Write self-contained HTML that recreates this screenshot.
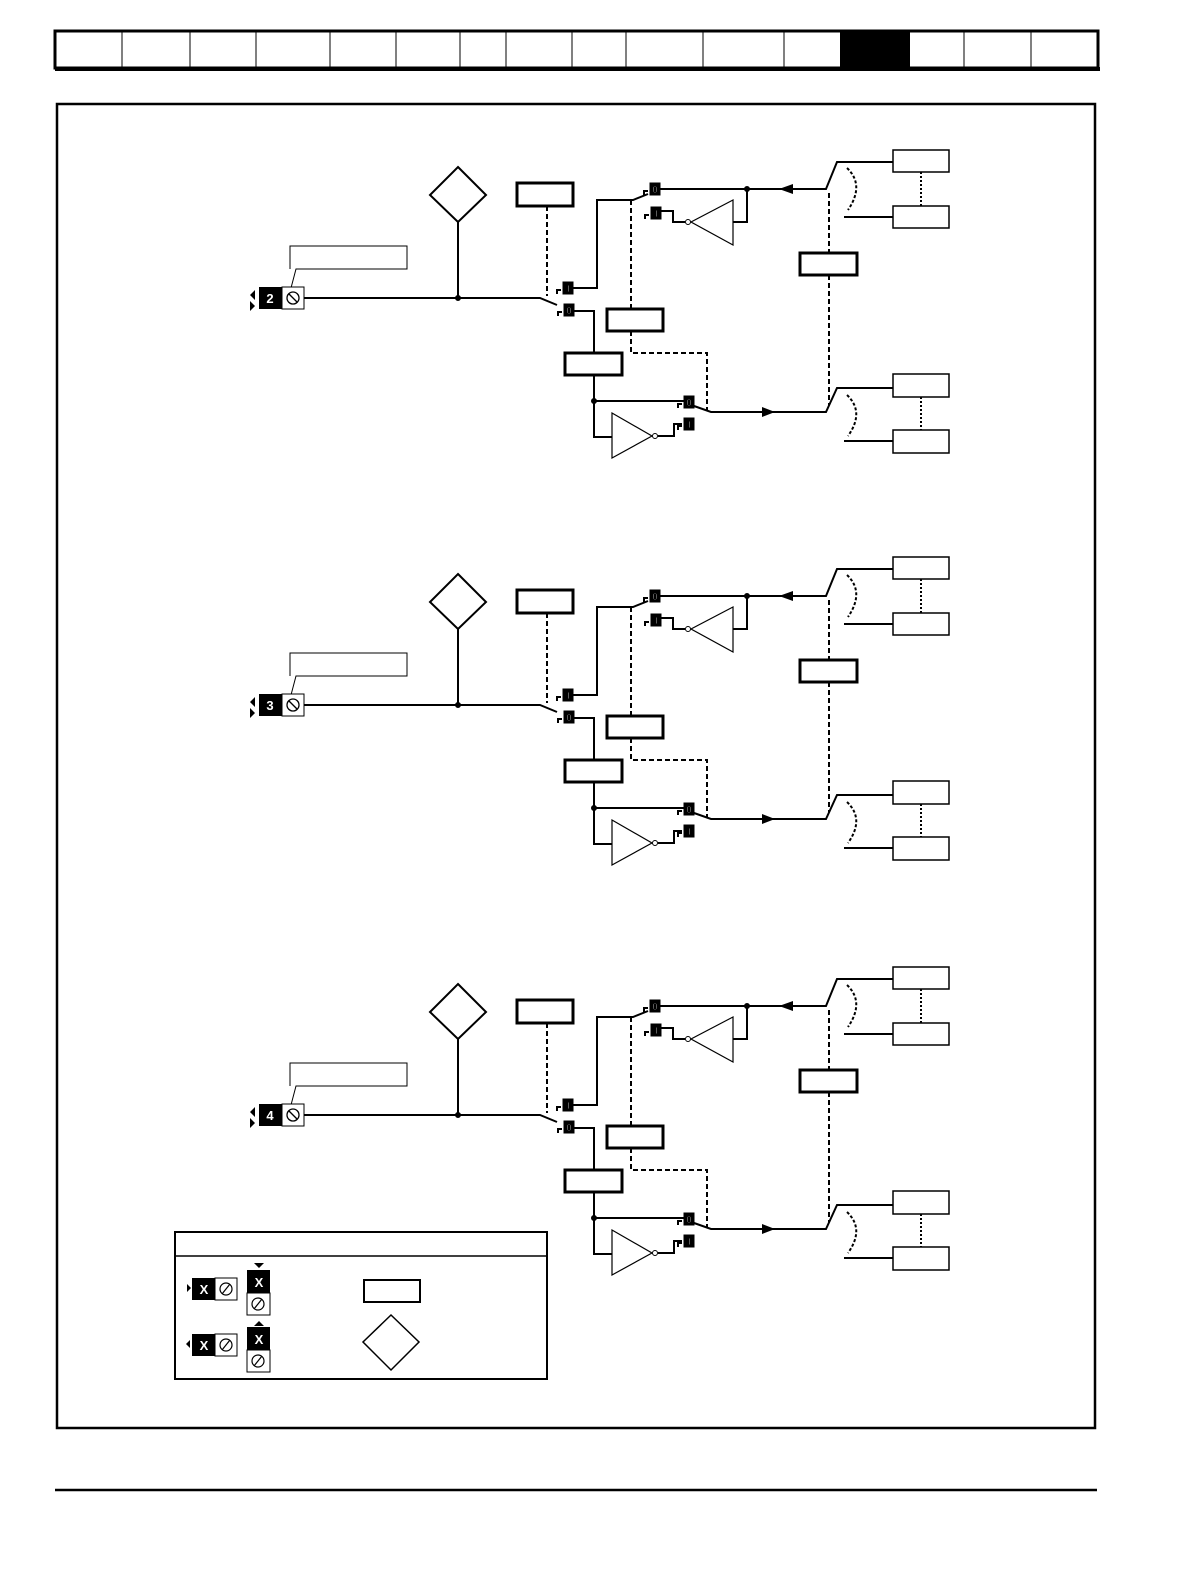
<!DOCTYPE html>
<html><head><meta charset="utf-8"><style>html,body{margin:0;padding:0;background:#fff;overflow:hidden;width:1190px;height:1580px}svg{display:block}</style></head>
<body>
<svg width="1190" height="1580" viewBox="0 0 1190 1580" xmlns="http://www.w3.org/2000/svg" font-family="Liberation Sans, sans-serif">
<defs>
<g id="c0"><path d="M-6,6 v-4 h4" fill="none" stroke="#000" stroke-width="2"/><rect x="0" y="-6" width="10" height="12" fill="#000"/><text x="5" y="4" font-size="10" fill="#fff" text-anchor="middle" font-weight="bold">0</text></g>
<g id="c1"><path d="M-6,6 v-4 h4" fill="none" stroke="#000" stroke-width="2"/><rect x="0" y="-6" width="10" height="12" fill="#000"/><text x="5" y="4" font-size="10" fill="#fff" text-anchor="middle" font-weight="bold">1</text></g>
<g id="sec" fill="none" stroke="#000">
  <path d="M290,269 V246 H407 V269 H296 L291,288" stroke-width="1"/>
  <path d="M255,290 l-5,5 l5,5z M250,301 l5,5 l-5,5z" fill="#000" stroke="none"/>
  <rect x="259" y="287" width="23" height="22" fill="#000" stroke="none"/>
  <rect x="282" y="287" width="22" height="22" fill="#fff" stroke-width="1"/>
  <circle cx="293" cy="298" r="6" stroke-width="1.3"/><line x1="289" y1="294" x2="297" y2="302" stroke-width="1.3"/>
  <path d="M304,298 H540 L557,305" stroke-width="2"/>
  <circle cx="458" cy="298" r="2.5" fill="#000"/>
  <path d="M458,298 V222" stroke-width="2"/>
  <path d="M458,167 L486,195 L458,222 L430,195 Z" stroke-width="2"/>
  <rect x="517" y="183" width="56" height="23" stroke-width="3"/>
  <path d="M547,206 V296" stroke-width="2" stroke-dasharray="5,3"/>
  <use href="#c1" x="563" y="288"/>
  <use href="#c0" x="564" y="310"/>
  <path d="M573,288 H597 V200 H633 L648,194" stroke-width="2"/>
  <use href="#c0" x="650" y="189"/>
  <use href="#c1" x="651" y="213"/>
  <path d="M631,200 V309 M631,331 V353 H707 V410" stroke-width="2" stroke-dasharray="5,3"/>
  <rect x="607" y="309" width="56" height="22" stroke-width="3"/>
  <path d="M574,311 H594 V353 M594,375 V437 H612" stroke-width="2"/>
  <rect x="565" y="353" width="57" height="22" stroke-width="3"/>
  <circle cx="594" cy="401" r="2.5" fill="#000"/>
  <path d="M594,401 H684" stroke-width="2"/>
  <path d="M612,413 L652,436 L612,458 Z" stroke-width="1.2"/>
  <circle cx="655" cy="436" r="2.5" fill="#fff" stroke-width="1"/>
  <path d="M658,436 H674 V424 H682" stroke-width="2"/>
  <use href="#c0" x="684" y="402"/>
  <use href="#c1" x="684" y="424"/>
  <path d="M694,406 L711,412 H826 L837,388 H893" stroke-width="2"/>
  <path d="M762,407 L775,412 L762,417Z" fill="#000" stroke="none"/>
  <path d="M844,441 H893" stroke-width="2"/>
  <rect x="893" y="374" width="56" height="23" stroke-width="1.5"/>
  <rect x="893" y="430" width="56" height="23" stroke-width="1.5"/>
  <path d="M921,397 V430 M921,172 V206" stroke-width="2" stroke-dasharray="2,2"/>
  <path d="M847,395 Q865,412 848,436 M847,168 Q865,185 848,210" stroke-width="2" stroke-dasharray="3,2"/>
  <path d="M660,189 H826 L837,162 H893 M844,217 H893" stroke-width="2"/>
  <path d="M793,184 L779,189 L793,194Z" fill="#000" stroke="none"/>
  <circle cx="747" cy="189" r="2.5" fill="#000"/>
  <path d="M747,189 V222 H733" stroke-width="2"/>
  <path d="M733,200 L691,222 L733,245 Z" stroke-width="1.2"/>
  <circle cx="688" cy="222" r="2.5" fill="#fff" stroke-width="1"/>
  <path d="M661,211 H673 V222 H685" stroke-width="2"/>
  <rect x="893" y="150" width="56" height="22" stroke-width="1.5"/>
  <rect x="893" y="206" width="56" height="22" stroke-width="1.5"/>
  <path d="M829,193 V253 M829,275 V405" stroke-width="2" stroke-dasharray="5,3"/>
  <rect x="800" y="253" width="57" height="22" stroke-width="3"/>
</g>
</defs>
<rect x="55" y="31" width="1043" height="37" fill="none" stroke="#000" stroke-width="3"/>
<line x1="55" y1="69" x2="1100" y2="69" stroke="#000" stroke-width="4"/>
<rect x="840" y="31" width="70" height="37" fill="#000"/>
<g stroke="#000" stroke-width="1">
<line x1="122" y1="31" x2="122" y2="68"/><line x1="190" y1="31" x2="190" y2="68"/><line x1="256" y1="31" x2="256" y2="68"/><line x1="330" y1="31" x2="330" y2="68"/><line x1="396" y1="31" x2="396" y2="68"/><line x1="460" y1="31" x2="460" y2="68"/><line x1="506" y1="31" x2="506" y2="68"/><line x1="572" y1="31" x2="572" y2="68"/><line x1="626" y1="31" x2="626" y2="68"/><line x1="703" y1="31" x2="703" y2="68"/><line x1="784" y1="31" x2="784" y2="68"/><line x1="964" y1="31" x2="964" y2="68"/><line x1="1031" y1="31" x2="1031" y2="68"/>
</g>
<rect x="57" y="104" width="1038" height="1324" fill="none" stroke="#000" stroke-width="2.5"/>
<line x1="55" y1="1490" x2="1097" y2="1490" stroke="#000" stroke-width="2.5"/>
<use href="#sec"/>
<use href="#sec" y="407"/>
<use href="#sec" y="817"/>
<g font-size="13" font-weight="bold" fill="#fff" text-anchor="middle">
<text x="270" y="303">2</text><text x="270" y="710">3</text><text x="270" y="1120">4</text>
</g>
<g fill="none" stroke="#000">
<rect x="175" y="1232" width="372" height="147" stroke-width="2"/>
<line x1="175" y1="1256" x2="547" y2="1256" stroke-width="1.5"/>
<path d="M187,1284 l4,4 l-4,4z M190,1340 l-4,4 l4,4z" fill="#000" stroke="none"/>
<rect x="192" y="1278" width="23" height="22" fill="#000" stroke="none"/>
<rect x="215" y="1278" width="22" height="22" stroke-width="1"/>
<rect x="192" y="1334" width="23" height="22" fill="#000" stroke="none"/>
<rect x="215" y="1334" width="22" height="22" stroke-width="1"/>
<rect x="247" y="1270" width="23" height="23" fill="#000" stroke="none"/>
<rect x="247" y="1293" width="23" height="22" stroke-width="1"/>
<rect x="247" y="1327" width="23" height="23" fill="#000" stroke="none"/>
<rect x="247" y="1350" width="23" height="22" stroke-width="1"/>
<path d="M254,1263 h10 l-5,5z M254,1326 h10 l-5,-5z" fill="#000" stroke="none"/>
<g stroke-width="1.2">
<circle cx="226" cy="1289" r="6"/><line x1="222" y1="1294" x2="230" y2="1284"/>
<circle cx="226" cy="1345" r="6"/><line x1="222" y1="1350" x2="230" y2="1340"/>
<circle cx="258" cy="1304" r="6"/><line x1="254" y1="1309" x2="262" y2="1299"/>
<circle cx="258" cy="1361" r="6"/><line x1="254" y1="1366" x2="262" y2="1356"/>
</g>
<rect x="364" y="1280" width="56" height="22" stroke-width="2"/>
<path d="M391,1315 L419,1342 L391,1370 L363,1342 Z" stroke-width="1.5"/>
</g>
<g font-size="13" font-weight="bold" fill="#fff" text-anchor="middle">
<text x="204" y="1294">X</text><text x="204" y="1350">X</text><text x="259" y="1287">X</text><text x="259" y="1344">X</text>
</g>
</svg>
</body></html>
